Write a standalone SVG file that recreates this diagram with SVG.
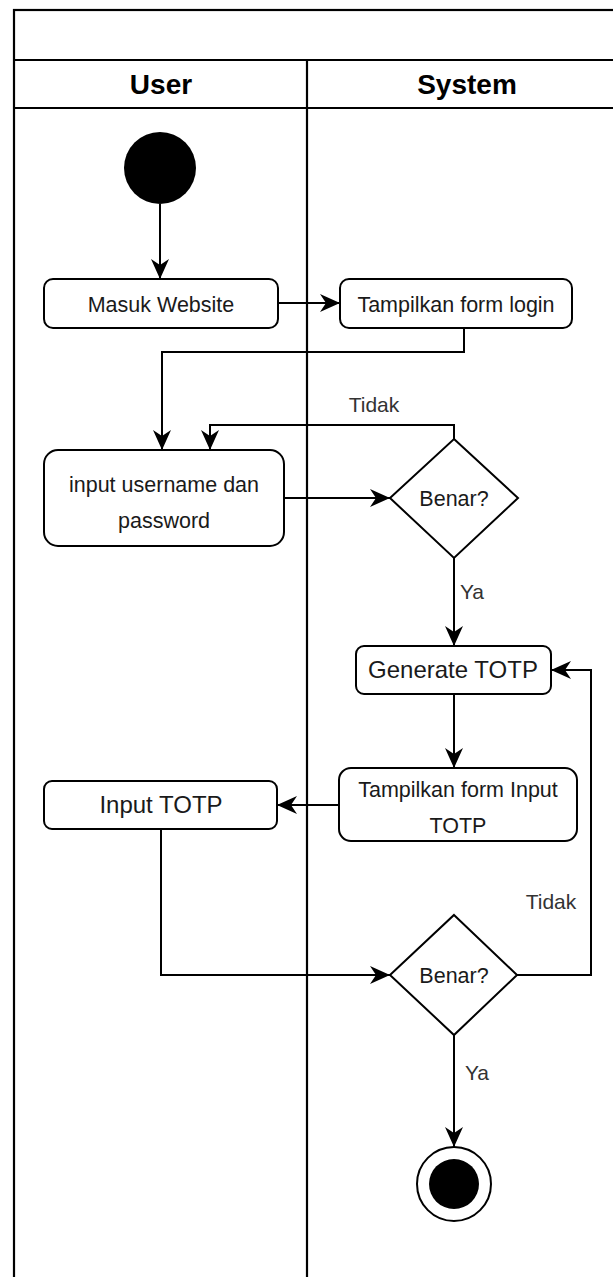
<svg xmlns="http://www.w3.org/2000/svg" width="613" height="1277" viewBox="0 0 613 1277">
<style>
.frame{fill:none;stroke:#000;stroke-width:2.2}
.box{fill:#fff;stroke:#000;stroke-width:2}
.t{font-family:"Liberation Sans",Arial,Helvetica,sans-serif;fill:#1a1a1a;text-anchor:middle}
.s{font-size:21.5px}
.m{font-size:24px}
.h{font-size:28px;font-weight:bold;fill:#000}
.lbl{font-family:"Liberation Sans",Arial,Helvetica,sans-serif;font-size:21px;fill:#333;text-anchor:middle}
.c{fill:none;stroke:#000;stroke-width:2}
</style>
<defs>
<marker id="arr" markerUnits="userSpaceOnUse" markerWidth="21" markerHeight="19" refX="20" refY="9" orient="auto" viewBox="0 0 21 19">
<path d="M0,0 L20,9 L0,18 L6,9 Z" fill="#000"/>
</marker>
</defs>
<rect width="613" height="1277" fill="#fff"/>
<g id="pool">
<rect class="frame" x="14" y="10" width="640" height="1300"/>
<line class="frame" x1="14" y1="60" x2="613" y2="60"/>
<line class="frame" x1="14" y1="108" x2="613" y2="108"/>
<line class="frame" x1="307" y1="60" x2="307" y2="1277"/>
<text class="t h" x="161" y="84" dy="0.35em">User</text>
<text class="t h" x="467" y="84" dy="0.35em">System</text>
</g>
<g id="connectors">
<path class="c" d="M160,204 V279" marker-end="url(#arr)"/>
<path class="c" d="M278,303 H340" marker-end="url(#arr)"/>
<path class="c" d="M464,328 V352 H162 V450" marker-end="url(#arr)"/>
<path class="c" d="M284,498 H390" marker-end="url(#arr)"/>
<path class="c" d="M454,439 V425 H210 V450" marker-end="url(#arr)"/>
<path class="c" d="M454,558 V646" marker-end="url(#arr)"/>
<path class="c" d="M454,694 V768" marker-end="url(#arr)"/>
<path class="c" d="M339,805 H277" marker-end="url(#arr)"/>
<path class="c" d="M161,829 V975 H390" marker-end="url(#arr)"/>
<path class="c" d="M517,975 H591 V670 H551" marker-end="url(#arr)"/>
<path class="c" d="M454,1035 V1147" marker-end="url(#arr)"/>
<text class="lbl" x="374" y="405" dy="0.35em">Tidak</text>
<text class="lbl" x="472" y="592" dy="0.35em">Ya</text>
<text class="lbl" x="551" y="902" dy="0.35em">Tidak</text>
<text class="lbl" x="477" y="1073" dy="0.35em">Ya</text>
</g>
<g id="start">
<circle cx="160" cy="168" r="36" fill="#000"/>
</g>
<g id="masuk">
<rect class="box" x="44" y="279" width="234" height="49" rx="9"/>
<text class="t s" x="161" y="304" dy="0.35em">Masuk Website</text>
</g>
<g id="tampil_login">
<rect class="box" x="340" y="279" width="232" height="49" rx="9"/>
<text class="t s" x="456" y="304" dy="0.35em">Tampilkan form login</text>
</g>
<g id="input_user">
<rect class="box" x="44" y="450" width="240" height="96" rx="14"/>
<text class="t s" x="164" y="484" dy="0.35em">input username dan</text>
<text class="t s" x="164" y="520" dy="0.35em">password</text>
</g>
<g id="cek1">
<polygon class="box" points="454,439 518,498 454,558 390,498"/>
<text class="t s" x="454" y="498" dy="0.35em">Benar?</text>
</g>
<g id="generate">
<rect class="box" x="356" y="646" width="195" height="48" rx="8"/>
<text class="t m" x="453" y="670" dy="0.35em">Generate TOTP</text>
</g>
<g id="tampil_input">
<rect class="box" x="339" y="768" width="238" height="73" rx="12"/>
<text class="t s" x="458" y="789" dy="0.35em">Tampilkan form Input</text>
<text class="t s" x="458" y="825" dy="0.35em">TOTP</text>
</g>
<g id="input_totp">
<rect class="box" x="44" y="781" width="233" height="48" rx="8"/>
<text class="t m" x="161" y="805" dy="0.35em">Input TOTP</text>
</g>
<g id="cek2">
<polygon class="box" points="454,915 517,975 454,1035 390,975"/>
<text class="t s" x="454" y="975" dy="0.35em">Benar?</text>
</g>
<g id="end">
<circle cx="454" cy="1184" r="37" fill="#fff" stroke="#000" stroke-width="2"/>
<circle cx="454" cy="1184" r="25" fill="#000"/>
</g>
</svg>
